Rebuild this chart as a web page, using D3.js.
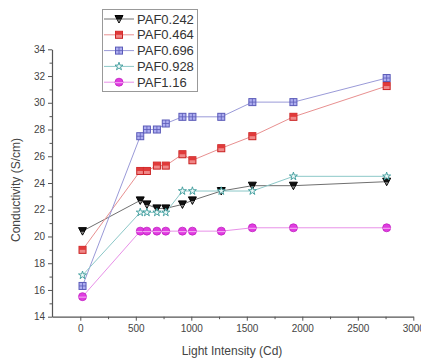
<!DOCTYPE html>
<html>
<head>
<meta charset="utf-8">
<script src="https://cdn.jsdelivr.net/npm/d3@7"></script>
<style>
  body { margin: 0; background: #fff; }
  svg { display: block; font-family: 'Liberation Sans', Arial, sans-serif; }
</style>
</head>
<body>
<svg width="421" height="358"></svg>
<script>
'use strict'

// light intensity (Cd), shared by every series
const lightIntensity = [20, 540, 600, 690, 770, 920, 1010, 1270, 1550, 1920, 2760]

const paf0242 = [20.4, 22.7, 22.4, 22.1, 22.1, 22.4, 22.7, 23.4, 23.8, 23.8, 24.1]
const paf0464 = [19.0, 24.9, 24.9, 25.3, 25.3, 26.15, 25.7, 26.6, 27.5, 28.95, 31.25]
const paf0696 = [16.3, 27.5, 28.0, 28.0, 28.45, 28.95, 28.95, 28.95, 30.05, 30.05, 31.85]
const paf0928 = [17.1, 21.8, 21.8, 21.8, 21.8, 23.4, 23.4, 23.4, 23.4, 24.5, 24.5]
const paf116 = [15.5, 20.4, 20.4, 20.4, 20.4, 20.4, 20.4, 20.4, 20.65, 20.65, 20.65]

const seriesNames = ['PAF0.242', 'PAF0.464', 'PAF0.696', 'PAF0.928', 'PAF1.16']
const xTicks = [0, 500, 1000, 1500, 2000, 2500, 3000]
const yTicks = [14, 16, 18, 20, 22, 24, 26, 28, 30, 32, 34]

const styles = {
  'PAF0.242': { line: '#707070', fill: '#111', stroke: '#000', symbol: 'tri' },
  'PAF0.464': { line: '#e89090', fill: '#e03a3a', stroke: '#c82020', symbol: 'square' },
  'PAF0.696': { line: '#9a9ad8', fill: '#aeaef0', stroke: '#5a5ab8', symbol: 'squareCross' },
  'PAF0.928': { line: '#8cc8c8', fill: '#eef8f8', stroke: '#3a9a9a', symbol: 'star' },
  'PAF1.16': { line: '#e890e8', fill: '#e03ce0', stroke: '#c020c0', symbol: 'circle' }
}

const seriesValues = [paf0242, paf0464, paf0696, paf0928, paf116]
const series = seriesNames.map((name, i) => ({
  name: name,
  points: lightIntensity.map((x, j) => ({ x: x, y: seriesValues[i][j] }))
}))

const svg = d3.select('svg')
const axisColor = '#555'
const textColor = '#444'

// scales: y axis sits at x=52, value 0 at ~80
const xScale = d3.scaleLinear().domain([-255, 3000]).range([52, 413.3])
const yScale = d3.scaleLinear().domain([14, 34]).range([316.7, 49.3])

// minor ticks first
const xMinor = d3.range(250, 3000, 500)
const yMinor = d3.range(15, 34, 2)

svg.append('g')
  .attr('transform', 'translate(0,' + yScale(14) + ')')
  .call(d3.axisBottom(xScale).tickValues(xMinor).tickSize(2.5).tickFormat(''))
  .call(g => g.select('.domain').remove())
  .call(g => g.selectAll('line').attr('stroke', axisColor))

svg.append('g')
  .attr('transform', 'translate(' + xScale(-255) + ',0)')
  .call(d3.axisLeft(yScale).tickValues(yMinor).tickSize(2.5).tickFormat(''))
  .call(g => g.select('.domain').remove())
  .call(g => g.selectAll('line').attr('stroke', axisColor))

// major axes
const xAxis = svg.append('g')
  .attr('transform', 'translate(0,' + yScale(14) + ')')
  .call(d3.axisBottom(xScale).tickValues(xTicks).tickFormat(d3.format('d'))
    .tickSize(4).tickSizeOuter(0).tickPadding(4))

const yAxis = svg.append('g')
  .attr('transform', 'translate(' + xScale(-255) + ',0)')
  .call(d3.axisLeft(yScale).tickValues(yTicks).tickSize(4).tickSizeOuter(0).tickPadding(3))

;[xAxis, yAxis].forEach(ax => {
  ax.select('.domain').attr('stroke', axisColor).attr('stroke-width', 1.2)
  ax.selectAll('.tick line').attr('stroke', axisColor)
  ax.selectAll('.tick text').attr('fill', textColor).style('font-size', '10px')
})

// axis titles
svg.append('text')
  .attr('x', 232)
  .attr('y', 355)
  .attr('text-anchor', 'middle')
  .attr('fill', textColor)
  .style('font-size', '12px')
  .text('Light Intensity (Cd)')

svg.append('text')
  .attr('transform', 'translate(20,190) rotate(-90)')
  .attr('text-anchor', 'middle')
  .attr('fill', textColor)
  .style('font-size', '12px')
  .text('Conductivity (S/cm)')

// marker drawing
function drawMarker(g, kind, st) {
  if (kind === 'tri') {
    g.append('path').attr('d', 'M-4,-3.5L4,-3.5L0,4Z')
      .attr('fill', st.fill).attr('stroke', st.stroke).attr('stroke-width', 1)
    g.append('path').attr('d', 'M-1.8,0.5L1.8,0.5L0,3.2Z').attr('fill', '#888')
  } else if (kind === 'square') {
    g.append('rect').attr('x', -3.5).attr('y', -3.5).attr('width', 7).attr('height', 7)
      .attr('fill', '#f08888').attr('stroke', st.stroke).attr('stroke-width', 1)
    g.append('rect').attr('x', -3.5).attr('y', -3.5).attr('width', 7).attr('height', 3.5)
      .attr('fill', st.fill)
  } else if (kind === 'squareCross') {
    g.append('rect').attr('x', -3.5).attr('y', -3.5).attr('width', 7).attr('height', 7)
      .attr('fill', st.fill).attr('stroke', st.stroke).attr('stroke-width', 1)
    g.append('path').attr('d', 'M0,-3.5V3.5M-3.5,0H3.5')
      .attr('stroke', st.stroke).attr('stroke-width', 0.8)
  } else if (kind === 'star') {
    g.append('path').attr('d', d3.symbol(d3.symbolStar, 20)())
      .attr('fill', st.fill).attr('stroke', st.stroke).attr('stroke-width', 0.9)
  } else {
    g.append('circle').attr('r', 4)
      .attr('fill', st.fill).attr('stroke', st.stroke).attr('stroke-width', 0.8)
    g.append('path').attr('d', 'M-4,0.5H4').attr('stroke', '#f6b0f6').attr('stroke-width', 1)
  }
}

const line = d3.line().x(d => xScale(d.x)).y(d => yScale(d.y))

// lines
series.forEach(s => {
  svg.append('path')
    .datum(s.points)
    .attr('d', line)
    .attr('fill', 'none')
    .attr('stroke', styles[s.name].line)
    .attr('stroke-width', 1)
})

// markers
series.forEach(s => {
  const st = styles[s.name]
  svg.append('g')
    .selectAll('g')
    .data(s.points)
    .enter()
    .append('g')
    .attr('transform', d => 'translate(' + xScale(d.x) + ',' + yScale(d.y) + ')')
    .each(function () { drawMarker(d3.select(this), st.symbol, st) })
})

// legend
const legend = svg.append('g')
legend.append('rect')
  .attr('x', 102.5).attr('y', 9.5).attr('width', 95).attr('height', 82)
  .attr('fill', '#fff').attr('stroke', '#999').attr('stroke-width', 1)

seriesNames.forEach((name, i) => {
  const st = styles[name]
  const y = 19 + i * 15.8
  legend.append('line')
    .attr('x1', 104).attr('x2', 134).attr('y1', y).attr('y2', y)
    .attr('stroke', st.line).attr('stroke-width', 1)
  drawMarker(legend.append('g').attr('transform', 'translate(119,' + y + ')'), st.symbol, st)
  legend.append('text')
    .attr('x', 137).attr('y', y)
    .attr('dy', '0.36em')
    .attr('fill', '#333')
    .style('font-size', '13px')
    .text(name)
})
</script>
</body>
</html>
